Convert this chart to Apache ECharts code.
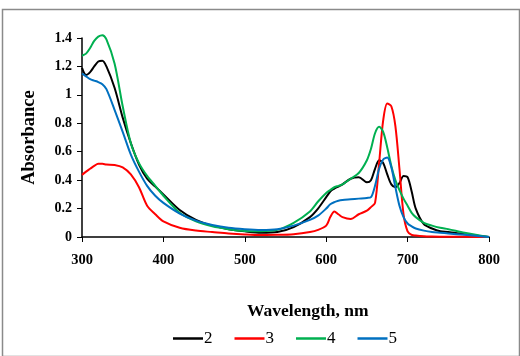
<!DOCTYPE html>
<html lang="en">
<head>
    <meta charset="UTF-8">
    <title>Absorbance spectra</title>
    <style>
        html, body {
            margin: 0;
            padding: 0;
            background: #ffffff;
        }
        #main {
            width: 520px;
            height: 356px;
        }
    </style>
    <script type="text/javascript" src="https://cdn.jsdelivr.net/npm/echarts@6/dist/echarts.min.js"></script>
</head>
<body>
<div id="main"></div>
<script type="text/javascript">
    var wavelength = [300, 305, 310, 315, 320, 325, 330, 340, 350, 360, 370, 380, 390, 400, 420, 440, 460, 480, 500, 520,
        540, 560, 580, 590, 600, 605, 610, 615, 620, 630, 640, 650, 655, 660, 665, 670, 675, 680, 685, 690,
        695, 700, 705, 710, 720, 730, 740, 750, 770, 800];
    var abs2 = [1.19, 1.14, 1.16, 1.20, 1.235, 1.24, 1.20, 1.05, 0.84, 0.66, 0.51, 0.41, 0.355, 0.30, 0.19, 0.12, 0.08, 0.055, 0.04, 0.03,
        0.035, 0.07, 0.14, 0.20, 0.28, 0.32, 0.34, 0.355, 0.37, 0.41, 0.42, 0.385, 0.40, 0.48, 0.54, 0.52, 0.44, 0.37, 0.35, 0.38,
        0.43, 0.42, 0.32, 0.20, 0.09, 0.06, 0.04, 0.035, 0.02, 0.0];
    var abs3 = [0.437, 0.46, 0.48, 0.50, 0.515, 0.515, 0.51, 0.507, 0.49, 0.44, 0.35, 0.22, 0.16, 0.11, 0.065, 0.045, 0.035, 0.025, 0.018, 0.014,
        0.015, 0.02, 0.035, 0.05, 0.08, 0.14, 0.18, 0.16, 0.14, 0.127, 0.16, 0.185, 0.21, 0.24, 0.52, 0.82, 0.94, 0.92, 0.78, 0.48,
        0.16, 0.04, 0.015, 0.01, 0.005, 0.003, 0.002, 0.002, 0.001, 0.0];
    var abs4 = [1.275, 1.29, 1.33, 1.38, 1.41, 1.42, 1.39, 1.22, 0.92, 0.66, 0.52, 0.43, 0.36, 0.29, 0.17, 0.11, 0.075, 0.055, 0.042, 0.04,
        0.05, 0.10, 0.18, 0.25, 0.31, 0.33, 0.35, 0.36, 0.37, 0.41, 0.45, 0.54, 0.62, 0.73, 0.775, 0.74, 0.63, 0.50, 0.40, 0.33,
        0.27, 0.22, 0.17, 0.14, 0.10, 0.08, 0.065, 0.055, 0.03, 0.0];
    var abs5 = [1.15, 1.13, 1.11, 1.10, 1.09, 1.075, 1.04, 0.895, 0.74, 0.58, 0.46, 0.36, 0.29, 0.24, 0.165, 0.115, 0.085, 0.065, 0.055, 0.05,
        0.055, 0.08, 0.12, 0.15, 0.20, 0.23, 0.245, 0.255, 0.26, 0.265, 0.27, 0.275, 0.28, 0.36, 0.48, 0.545, 0.56, 0.49, 0.35, 0.22,
        0.14, 0.095, 0.075, 0.06, 0.045, 0.035, 0.03, 0.025, 0.015, 0.0];
    var seriesNames = ['2', '3', '4', '5'];
    var seriesColors = ['#000000', '#ff0000', '#00b050', '#0070c0'];
    var yTicks = {0: '0', 0.2: '0.2', 0.4: '0.4', 0.6: '0.6', 0.8: '0.8', 1: '1', 1.2: '1.2', 1.4: '1.4'};

    var serif = "'Liberation Serif', 'Times New Roman', serif";

    function pairs(ys) {
        return wavelength.map(function (w, i) { return [w, ys[i]]; });
    }

    var allAbs = [abs2, abs3, abs4, abs5];
    var series = seriesNames.map(function (name, i) {
        return {
            name: name,
            type: 'line',
            data: pairs(allAbs[i]),
            smooth: 0.3,
            symbol: 'none',
            clip: false,
            lineStyle: {width: 2, color: seriesColors[i]},
            itemStyle: {color: seriesColors[i]}
        };
    });

    var chart = echarts.init(document.getElementById('main'));
    chart.setOption({
        animation: false,
        grid: {left: 82, right: 31, top: 38, bottom: 119},
        legend: {
            data: seriesNames,
            left: 168,
            top: 325,
            icon: 'rect',
            itemWidth: 30,
            itemHeight: 2.5,
            itemGap: 22,
            textStyle: {fontFamily: serif, fontSize: 17, color: '#000', padding: [0, 0, 0, -4]}
        },
        graphic: [
            {
                type: 'rect',
                left: 0, top: 7,
                shape: {width: 517, height: 347},
                style: {fill: 'none', stroke: '#8a8a8a', lineWidth: 1.5},
                silent: true
            },
            {
                type: 'text',
                left: 247, top: 302,
                style: {text: 'Wavelength, nm', font: 'bold 17.5px ' + serif, fill: '#000'}
            }
        ],
        xAxis: {
            type: 'value',
            min: 300, max: 800, interval: 100,
            axisLine: {lineStyle: {color: '#000', width: 1.5}},
            axisTick: {show: true, length: 5, lineStyle: {color: '#000'}},
            splitLine: {show: false},
            axisLabel: {fontFamily: serif, fontWeight: 'bold', fontSize: 14.5, color: '#000', margin: 16}
        },
        yAxis: {
            type: 'value',
            min: 0, max: 1.4, interval: 0.2,
            name: 'Absorbance',
            nameLocation: 'middle',
            nameGap: 43,
            nameTextStyle: {fontFamily: serif, fontWeight: 'bold', fontSize: 18.5, color: '#000'},
            axisLine: {show: true, lineStyle: {color: '#000', width: 1.5}},
            axisTick: {show: true, length: 5, lineStyle: {color: '#000'}},
            splitLine: {show: false},
            axisLabel: {
                fontFamily: serif, fontWeight: 'bold', fontSize: 14, color: '#000', margin: 10,
                formatter: function (v) { return yTicks[Math.round(v * 10) / 10]; }
            }
        },
        series: series
    });
</script>
</body>
</html>
